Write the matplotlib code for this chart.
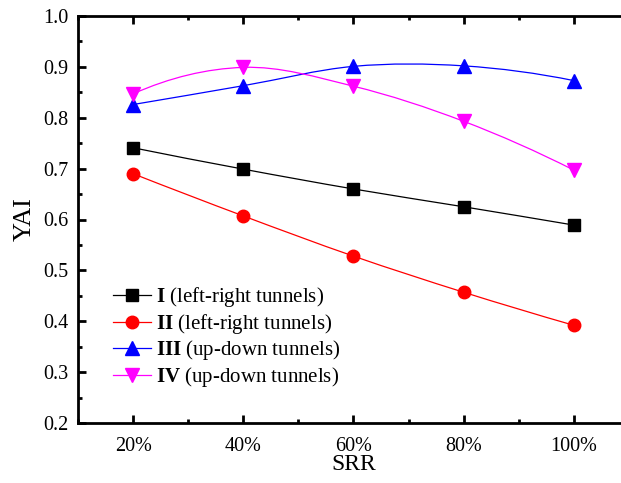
import numpy as np
import matplotlib.pyplot as plt
from matplotlib.path import Path
from matplotlib.patches import PathPatch
from matplotlib.lines import Line2D
from matplotlib.ticker import MultipleLocator, FuncFormatter

plt.rcParams["font.family"] = "Liberation Serif"
plt.rcParams["mathtext.fontset"] = "custom"
plt.rcParams["mathtext.rm"] = "Liberation Serif"
plt.rcParams["mathtext.bf"] = "Liberation Serif:bold"

# Data
srr = [20, 40, 60, 80, 100]
yai_i = [0.741, 0.699, 0.660, 0.625, 0.589]
yai_ii = [0.690, 0.607, 0.528, 0.457, 0.392]
yai_iii = [0.826, 0.863, 0.901, 0.902, 0.873]
yai_iv = [0.847, 0.899, 0.862, 0.793, 0.697]

labels = [r"$\mathbf{I}$ (left-right tunnels)",
          r"$\mathbf{II}$ (left-right tunnels)",
          r"$\mathbf{III}$ (up-down tunnels)",
          r"$\mathbf{IV}$ (up-down tunnels)"]
colors = ["black", "red", "blue", "magenta"]
markers = ["s", "o", "^", "v"]
sizes = [8, 9, 9.5, 9.5]


def smooth_path(x, y):
    # cubic Bezier segments through the points (Catmull-Rom style slopes)
    x = np.asarray(x, float)
    y = np.asarray(y, float)
    n = len(x)
    m = np.zeros(n)
    m[1:-1] = (y[2:] - y[:-2]) / (x[2:] - x[:-2])
    m[0] = 2 * (y[1] - y[0]) / (x[1] - x[0]) - m[1]
    m[-1] = 2 * (y[-1] - y[-2]) / (x[-1] - x[-2]) - m[-2]
    verts = [(x[0], y[0])]
    codes = [Path.MOVETO]
    for i in range(n - 1):
        h = x[i + 1] - x[i]
        verts += [(x[i] + h / 3, y[i] + m[i] * h / 3),
                  (x[i + 1] - h / 3, y[i + 1] - m[i + 1] * h / 3),
                  (x[i + 1], y[i + 1])]
        codes += [Path.CURVE4] * 3
    return Path(verts, codes)


fig = plt.figure(figsize=(6.21, 4.83), dpi=100)
ax = fig.add_axes([78 / 621, 60 / 483, 551 / 621, 407 / 483])

handles = []
for ys, c, mk, ms, lab in zip([yai_i, yai_ii, yai_iii, yai_iv], colors, markers, sizes, labels):
    ax.add_patch(PathPatch(smooth_path(srr, ys), facecolor="none", edgecolor=c, lw=0.9, zorder=2))
    ax.plot(srr, ys, linestyle="none", marker=mk, color=c, markersize=ms, zorder=3)
    handles.append(Line2D([], [], color=c, lw=0.9, marker=mk, markersize=ms, label=lab))

ax.set_xlim(10, 110)
ax.set_ylim(0.2, 1.0)
ax.xaxis.set_major_locator(MultipleLocator(20))
ax.xaxis.set_minor_locator(MultipleLocator(10))
ax.yaxis.set_major_locator(MultipleLocator(0.1))
ax.yaxis.set_minor_locator(MultipleLocator(0.05))
ax.xaxis.set_major_formatter(FuncFormatter(lambda v, p: f"{v:.0f}%"))
ax.yaxis.set_major_formatter(FuncFormatter(lambda v, p: f"{v:.1f}"))

ax.tick_params(which="both", direction="in", top=True, right=True, width=2, labelsize=14.5)
ax.tick_params(which="major", length=6)
ax.tick_params(which="minor", length=3)
ax.tick_params(axis="y", which="major", pad=7)
ax.tick_params(axis="x", which="major", pad=10)
for s in ax.spines.values():
    s.set_linewidth(2)

ax.set_xlabel("SRR", fontsize=17, labelpad=-1)
ax.set_ylabel("YAI", fontsize=19, labelpad=5)

ax.legend(handles=handles, loc="center left", bbox_to_anchor=(35 / 551, 0.211),
          frameon=False, fontsize=15, borderaxespad=0, borderpad=0,
          handlelength=1.8, handletextpad=0.25, labelspacing=0.12)

fig.savefig("out.png", dpi=100)
